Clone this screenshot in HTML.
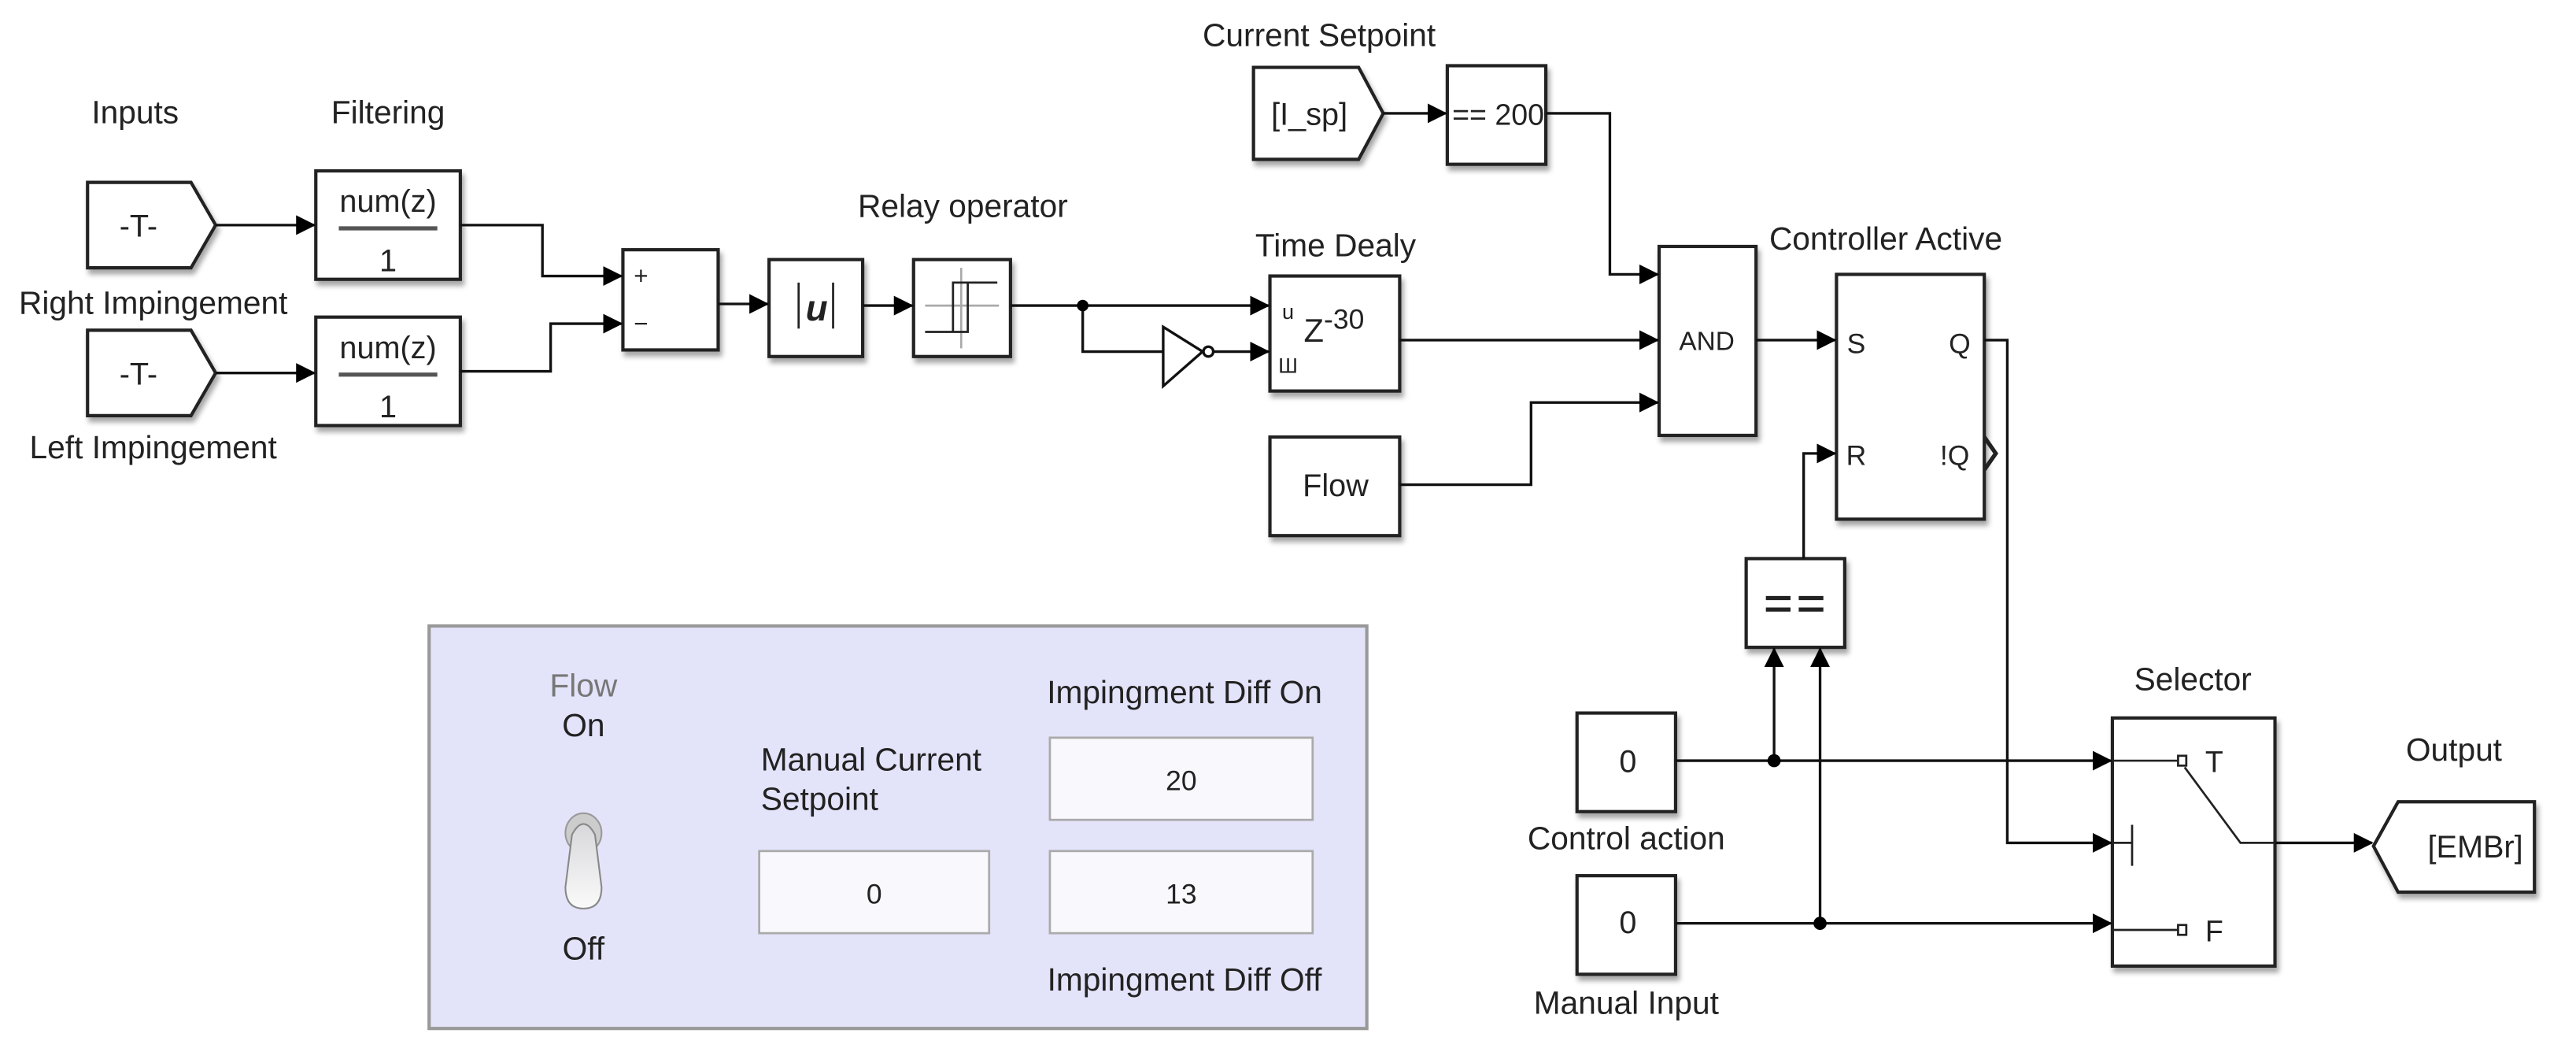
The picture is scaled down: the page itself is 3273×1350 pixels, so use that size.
<!DOCTYPE html>
<html><head><meta charset="utf-8"><style>
html,body{margin:0;padding:0;background:#fff;}
svg{display:block;}
text{font-family:"Liberation Sans",sans-serif;fill:#222;}
</style></head><body>
<svg width="3273" height="1350" viewBox="0 0 1568 647" xmlns="http://www.w3.org/2000/svg">
<defs>
<filter id="sh" x="-10%" y="-10%" width="130%" height="130%"><feDropShadow dx="1.5" dy="3" stdDeviation="1.5" flood-color="#000" flood-opacity="0.35"/></filter>
<marker id="ar" markerWidth="12" markerHeight="12" refX="11" refY="6" orient="auto" markerUnits="userSpaceOnUse"><path d="M0,0 L12,6 L0,12 z" fill="#000"/></marker>
<linearGradient id="tg" x1="0" y1="0" x2="0" y2="1"><stop offset="0" stop-color="#d8d8dc"/><stop offset="1" stop-color="#fafafa"/></linearGradient>
</defs>
<rect width="1568" height="647" fill="#fff"/>
<g font-size="19.5" text-anchor="middle">
<text x="82" y="75">Inputs</text>
<text x="236" y="75">Filtering</text>
<text x="93" y="191">Right Impingement</text>
<text x="93" y="279">Left Impingement</text>
<text x="586" y="132">Relay operator</text>
<text x="803" y="28">Current Setpoint</text>
<text x="813" y="156">Time Dealy</text>
<text x="1148" y="152">Controller Active</text>
<text x="1335" y="420">Selector</text>
<text x="1494" y="463">Output</text>
<text x="990" y="517">Control action</text>
<text x="990" y="617">Manual Input</text>
</g>
<g fill="#fff" stroke="#222" stroke-width="2" filter="url(#sh)">
<path d="M53,111 H116 L131,137 L116,163 H53 Z"/>
<path d="M53,201 H116 L131,227 L116,253 H53 Z"/>
<rect x="192" y="104" width="88" height="66"/>
<rect x="192" y="193" width="88" height="66"/>
<rect x="379" y="152" width="58" height="61"/>
<rect x="468" y="158" width="57" height="59"/>
<rect x="556" y="158" width="59" height="59"/>
<path d="M763,41 H827 L842,69 L827,97 H763 Z"/>
<rect x="881" y="40" width="60" height="60"/>
<rect x="773" y="168" width="79" height="70"/>
<rect x="773" y="266" width="79" height="60"/>
<rect x="1010" y="150" width="59" height="115"/>
<rect x="1118" y="167" width="90" height="149"/>
<rect x="1063" y="340" width="60" height="54"/>
<rect x="960" y="434" width="60" height="60"/>
<rect x="960" y="533" width="60" height="60"/>
<rect x="1286" y="437" width="99" height="151"/>
<path d="M1460,488 H1543 V543 H1460 L1445,515 Z"/>
</g>
<g font-size="19" text-anchor="middle">
<text x="84" y="144">-T-</text><text x="84" y="234">-T-</text>
<text x="236" y="129">num(z)</text><text x="236" y="165">1</text>
<text x="236" y="218">num(z)</text><text x="236" y="254">1</text>
<text x="797" y="76">[I_sp]</text>
<text x="912" y="76" font-size="18">== 200</text>
<text x="813" y="302">Flow</text>
<text x="991" y="470">0</text><text x="991" y="568">0</text>
<text x="1507" y="522">[EMBr]</text>
<text x="1039" y="213" font-size="16">AND</text>
<text x="1130" y="215" font-size="17">S</text><text x="1193" y="215" font-size="17">Q</text>
<text x="1130" y="283" font-size="17">R</text><text x="1190" y="283" font-size="17">!Q</text>
<text x="812" y="208" font-size="20">Z<tspan font-size="17" dy="-8">-30</tspan></text>
<text x="784" y="194" font-size="13">u</text>
<text x="784" y="227" font-size="13">Ш</text>
<text x="390" y="173" font-size="15">+</text><text x="390" y="202" font-size="15">−</text>
<text x="1348" y="470" font-size="18">T</text><text x="1348" y="573" font-size="18">F</text>
<text x="497" y="195" font-size="22" font-family="Liberation Serif" font-style="italic" font-weight="bold">u</text>
</g>
<g stroke="#222" stroke-width="1.3" fill="none">
<line x1="206" y1="139" x2="266" y2="139" stroke="#555" stroke-width="2.5"/>
<line x1="206" y1="228" x2="266" y2="228" stroke="#555" stroke-width="2.5"/>
<line x1="486" y1="172" x2="486" y2="200"/><line x1="507" y1="172" x2="507" y2="200"/>
<line x1="563" y1="186" x2="608" y2="186" stroke="#aaa"/><line x1="585" y1="163" x2="585" y2="212" stroke="#aaa"/>
<path d="M563,202 H589 V172 M580,202 V172 H607"/>
<line x1="1075" y1="364" x2="1090" y2="364" stroke-width="2.5"/><line x1="1095" y1="364" x2="1110" y2="364" stroke-width="2.5"/>
<line x1="1075" y1="371" x2="1090" y2="371" stroke-width="2.5"/><line x1="1095" y1="371" x2="1110" y2="371" stroke-width="2.5"/>
<path d="M1208,266 L1215,276 L1208,286" stroke-width="2.5"/>
<path d="M1286,463 H1326"/><rect x="1326" y="460" width="5" height="6"/>
<path d="M1286,566 H1326"/><rect x="1326" y="563" width="5" height="6"/>
<path d="M1286,513 H1298 M1298,502 V527"/>
<path d="M1330,467 L1364,513 H1385"/>
</g>
<g stroke="#111" stroke-width="1.6" fill="none">
<path d="M131,137 H191" marker-end="url(#ar)"/>
<path d="M131,227 H191" marker-end="url(#ar)"/>
<path d="M280,137 H330 V168 H378" marker-end="url(#ar)"/>
<path d="M280,226 H335 V197 H378" marker-end="url(#ar)"/>
<path d="M437,185 H467" marker-end="url(#ar)"/>
<path d="M525,186 H555" marker-end="url(#ar)"/>
<path d="M615,186 H772" marker-end="url(#ar)"/>
<path d="M659,186 V214 H708"/>
<path d="M739,214 H772" marker-end="url(#ar)"/>
<path d="M842,69 H880" marker-end="url(#ar)"/>
<path d="M941,69 H980 V167 H1009" marker-end="url(#ar)"/>
<path d="M852,207 H1009" marker-end="url(#ar)"/>
<path d="M852,295 H932 V245 H1009" marker-end="url(#ar)"/>
<path d="M1069,207 H1117" marker-end="url(#ar)"/>
<path d="M1208,207 H1222 V513 H1285" marker-end="url(#ar)"/>
<path d="M1098,340 V276 H1117" marker-end="url(#ar)"/>
<path d="M1020,463 H1285" marker-end="url(#ar)"/>
<path d="M1020,562 H1285" marker-end="url(#ar)"/>
<path d="M1080,463 V395" marker-end="url(#ar)"/>
<path d="M1108,562 V395" marker-end="url(#ar)"/>
<path d="M1385,513 H1444" marker-end="url(#ar)"/>
<path d="M708,199 L732,214 L708,235 Z" fill="#fff"/>
<circle cx="735.5" cy="214" r="3" fill="#fff"/>
</g>
<circle cx="659" cy="186" r="3.5" fill="#000"/>
<circle cx="1080" cy="463" r="4" fill="#000"/>
<circle cx="1108" cy="562" r="4" fill="#000"/>
<rect x="261" y="381" width="571" height="245" fill="#e3e3fa" stroke="#999" stroke-width="2"/>
<g font-size="19.5">
<text x="355" y="424" text-anchor="middle" style="fill:#777">Flow</text>
<text x="355" y="448" text-anchor="middle">On</text>
<text x="355" y="584" text-anchor="middle">Off</text>
<text x="463" y="469">Manual Current</text>
<text x="463" y="493">Setpoint</text>
<text x="721" y="428" text-anchor="middle">Impingment Diff On</text>
<text x="721" y="603" text-anchor="middle">Impingment Diff Off</text>
</g>
<g fill="#f8f8fd" stroke="#aaa" stroke-width="1.3">
<rect x="462" y="518" width="140" height="50"/>
<rect x="639" y="449" width="160" height="50"/>
<rect x="639" y="518" width="160" height="50"/>
</g>
<g font-size="17" text-anchor="middle">
<text x="532" y="550">0</text><text x="719" y="481">20</text><text x="719" y="550">13</text>
</g>
<ellipse cx="355" cy="507" rx="11" ry="12" fill="#ccc" stroke="#999"/>
<path d="M348,508 Q355,495 362,508 L366,540 Q366,553 355,553 Q344,553 344,540 Z" fill="url(#tg)" stroke="#888"/>
</svg>
</body></html>
